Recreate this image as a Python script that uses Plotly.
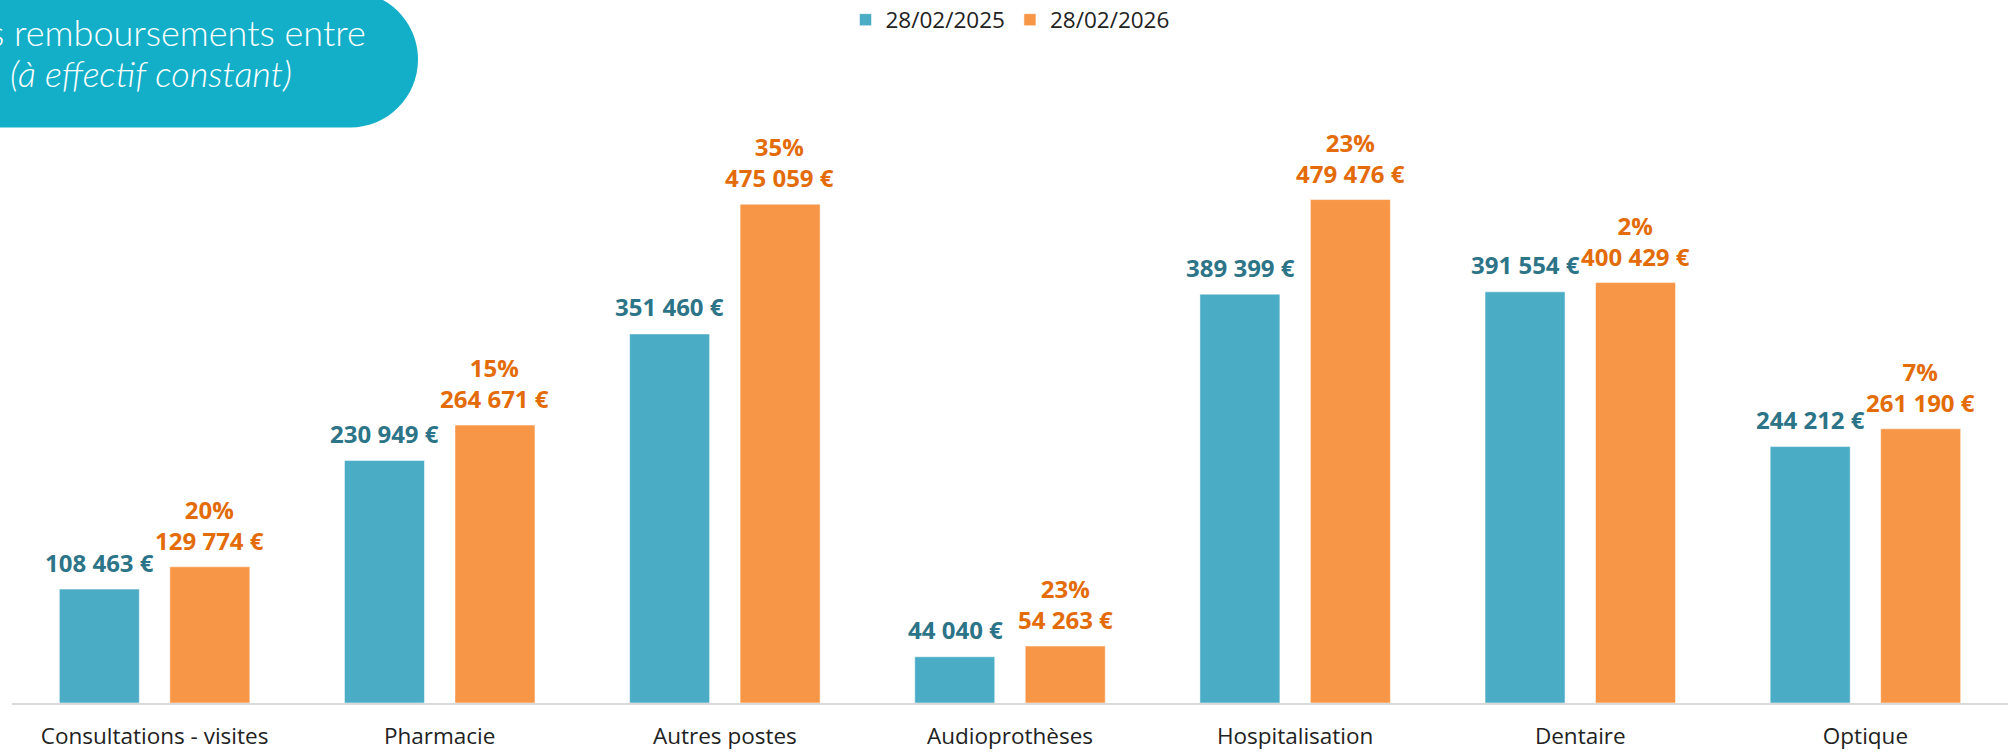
import plotly.graph_objects as go

categories = ["Consultations - visites", "Pharmacie", "Autres postes", "Audioprothèses",
              "Hospitalisation", "Dentaire", "Optique"]
v2025 = [108463, 230949, 351460, 44040, 389399, 391554, 244212]
v2026 = [129774, 264671, 475059, 54263, 479476, 400429, 261190]
evolution = ["20%", "15%", "35%", "23%", "23%", "2%", "7%"]
series_names = ["28/02/2025", "28/02/2026"]

W, H = 2013, 753
ML, MR, MT, MB = 12, 5, 100, 50
FONT = "Open Sans"

BLUE, ORANGE = "#4BACC6", "#F79646"
BLUE_TXT, ORANGE_TXT = "#2C7487", "#E36C09"
TEAL = "#13AFC8"


def eur(v):
    return f"{v:,}".replace(",", " ") + " €"


def px(x):
    return (x - ML) / (W - ML - MR)


def py(y):
    return (H - MB - y) / (H - MB - MT)


fig = go.Figure()
fig.add_trace(go.Bar(x=categories, y=v2025, name=series_names[0],
                     marker=dict(color=BLUE, line=dict(color="rgba(255,255,255,0.5)", width=1))))
fig.add_trace(go.Bar(x=categories, y=v2026, name=series_names[1],
                     marker=dict(color=ORANGE, line=dict(color="rgba(255,255,255,0.5)", width=1))))

annotations = []
for c, a, b, e in zip(categories, v2025, v2026, evolution):
    annotations.append(dict(x=c, y=a, xref="x", yref="y", text=f"<b>{eur(a)}</b>",
                            showarrow=False, xshift=-55, yshift=27, yanchor="middle",
                            font=dict(family=FONT, size=24, color=BLUE_TXT)))
    annotations.append(dict(x=c, y=b, xref="x", yref="y", text=f"<b>{e}<br>{eur(b)}</b>",
                            showarrow=False, xshift=55, yshift=42, yanchor="middle",
                            font=dict(family=FONT, size=24, color=ORANGE_TXT)))

# title box (rounded pill cut by the top-left corner)
k = 0.5523 * 68
pts = [("M", [(-30, -8.5)]), ("L", [(350, -8.5)]),
       ("C", [(350 + k, -8.5), (418, 59.5 - k), (418, 59.5)]),
       ("C", [(418, 59.5 + k), (350 + k, 127.5), (350, 127.5)]),
       ("L", [(-30, 127.5)])]
path = ""
for cmd, ps in pts:
    path += cmd + " ".join(f"{px(x):.5f},{py(y):.5f}" for x, y in ps) + " "
path += "Z"

annotations.append(dict(x=px(368), y=py(32), xref="paper", yref="paper", xanchor="right",
                        yanchor="middle", showarrow=False, text="s remboursements entre",
                        font=dict(family="Lato", size=36, color="white", weight=300)))
annotations.append(dict(x=px(8), y=py(73), xref="paper", yref="paper", xanchor="left",
                        yanchor="middle", showarrow=False, text="<i>(à effectif constant)</i>",
                        font=dict(family="Lato", size=36, color="white", weight=300)))

fig.update_layout(
    width=W, height=H,
    margin=dict(l=ML, r=MR, t=MT, b=MB, autoexpand=False),
    paper_bgcolor="white", plot_bgcolor="white",
    barmode="group", bargap=0.225, bargroupgap=0.276,
    font=dict(family=FONT, size=22, color="#222222"),
    legend=dict(orientation="h", x=0.5, xanchor="center", y=py(20), yanchor="middle",
                font=dict(family=FONT, size=22.5, color="#222222"), itemclick=False),
    shapes=[dict(type="path", path=path, xref="paper", yref="paper",
                 fillcolor=TEAL, line=dict(width=0), layer="above")],
    annotations=annotations,
    xaxis=dict(showline=True, linecolor="#D9D9D9", linewidth=2, showgrid=False,
               automargin=False, ticks="outside", ticklen=12, tickcolor="rgba(0,0,0,0)",
               tickfont=dict(family=FONT, size=22.5, color="#222222")),
    yaxis=dict(range=[0, (H - MB - MT) / 0.00105], visible=False, showgrid=False,
               automargin=False),
)

fig.write_html("out.html", config={"displayModeBar": False},
               post_script="document.body.style.margin='0';")
